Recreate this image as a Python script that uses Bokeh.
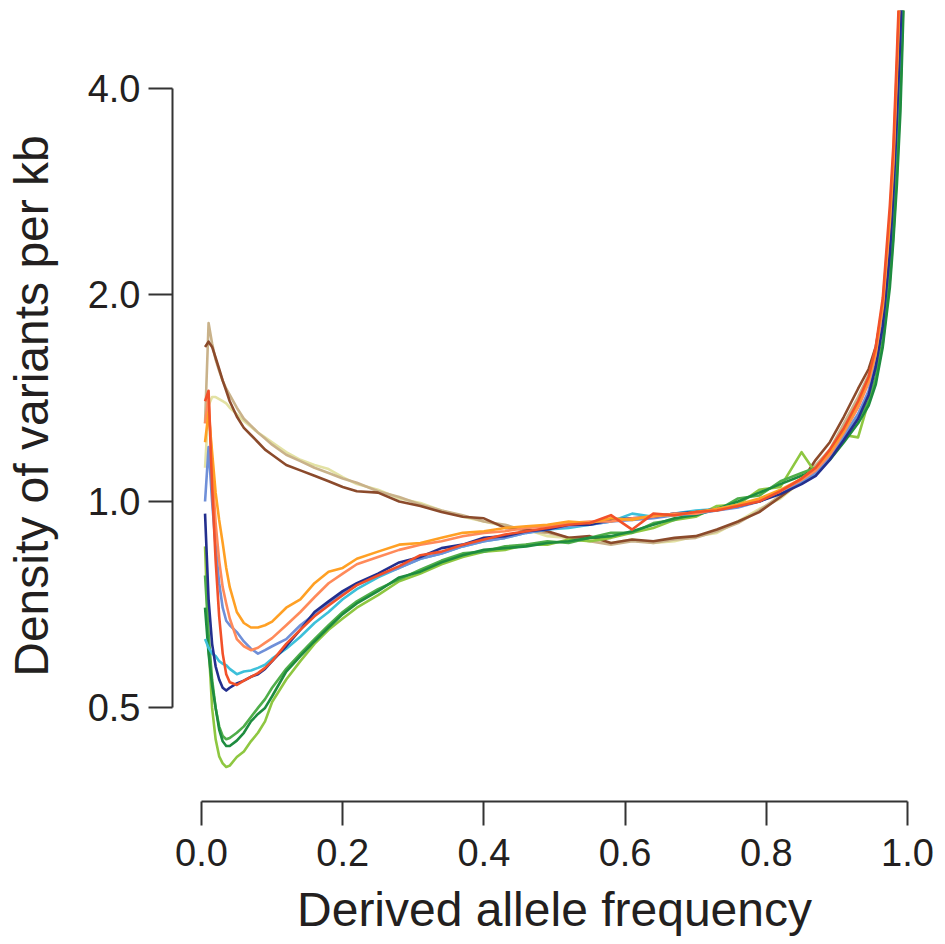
from bokeh.plotting import figure
from bokeh.models import Range1d, FixedTicker, NumeralTickFormatter
from bokeh.embed import file_html
from bokeh.resources import INLINE

# Derived allele frequency bins
freq = [0.005, 0.01, 0.015, 0.02, 0.025, 0.03, 0.035, 0.04, 0.05, 0.06, 0.07, 0.08, 0.09, 0.10,
        0.12, 0.14, 0.16, 0.18, 0.20, 0.22, 0.25, 0.28, 0.31, 0.34, 0.37, 0.40, 0.43, 0.46, 0.49,
        0.52, 0.55, 0.58, 0.61, 0.64, 0.67, 0.70, 0.73, 0.76, 0.79, 0.82, 0.85, 0.87, 0.89, 0.91,
        0.93, 0.945, 0.955, 0.965, 0.975, 0.98, 0.985, 0.99, 0.995]

# Density of variants per kb, one list per population curve
pale = [1.12, 1.38, 1.42, 1.42, 1.41, 1.40, 1.39, 1.37, 1.34, 1.31, 1.285, 1.26, 1.24, 1.22,
        1.18, 1.15, 1.13, 1.115, 1.085, 1.06, 1.04, 1.01, 0.995, 0.97, 0.95, 0.935, 0.92, 0.91, 0.89,
        0.885, 0.88, 0.87, 0.88, 0.87, 0.875, 0.89, 0.90, 0.935, 0.975, 1.01, 1.07, 1.12, 1.18, 1.28,
        1.40, 1.50, 1.62, 1.85, 2.30, 2.75, 3.40, 4.50, 6.50]
tan = [1.30, 1.82, 1.70, 1.61, 1.55, 1.50, 1.46, 1.43, 1.37, 1.32, 1.29, 1.26, 1.235, 1.21,
       1.17, 1.145, 1.12, 1.10, 1.08, 1.065, 1.035, 1.015, 0.99, 0.97, 0.955, 0.935, 0.925, 0.905, 0.90,
       0.885, 0.875, 0.865, 0.875, 0.87, 0.88, 0.885, 0.905, 0.93, 0.97, 1.02, 1.08, 1.13, 1.19, 1.30,
       1.42, 1.53, 1.66, 1.90, 2.40, 2.90, 3.60, 4.80, 6.80]
brown = [1.68, 1.71, 1.68, 1.62, 1.56, 1.50, 1.45, 1.40, 1.33, 1.28, 1.25, 1.22, 1.19, 1.17,
         1.13, 1.11, 1.09, 1.07, 1.05, 1.035, 1.03, 1.00, 0.985, 0.965, 0.95, 0.945, 0.915, 0.91, 0.905,
         0.885, 0.89, 0.87, 0.88, 0.875, 0.885, 0.89, 0.91, 0.935, 0.965, 1.015, 1.07, 1.15, 1.22, 1.33,
         1.46, 1.56, 1.68, 1.92, 2.40, 2.85, 3.55, 4.60, 6.50]
lime = [0.86, 0.62, 0.50, 0.45, 0.425, 0.415, 0.41, 0.412, 0.424, 0.432, 0.447, 0.46, 0.478, 0.51,
        0.55, 0.585, 0.62, 0.65, 0.675, 0.70, 0.73, 0.765, 0.785, 0.81, 0.83, 0.845, 0.85, 0.865, 0.865,
        0.88, 0.875, 0.885, 0.90, 0.915, 0.94, 0.95, 0.985, 0.99, 1.04, 1.05, 1.18, 1.10, 1.17, 1.25,
        1.24, 1.40, 1.50, 1.70, 2.10, 2.45, 3.00, 3.90, 5.80]
midgreen = [0.78, 0.64, 0.55, 0.50, 0.47, 0.455, 0.45, 0.452, 0.46, 0.47, 0.485, 0.50, 0.515, 0.535,
            0.57, 0.60, 0.63, 0.66, 0.69, 0.715, 0.745, 0.77, 0.795, 0.82, 0.84, 0.845, 0.86, 0.865, 0.875,
            0.87, 0.885, 0.90, 0.90, 0.93, 0.94, 0.965, 0.97, 1.01, 1.02, 1.07, 1.10, 1.12, 1.16, 1.24,
            1.32, 1.40, 1.52, 1.72, 2.15, 2.50, 3.10, 4.00, 6.00]
darkgreen = [0.70, 0.60, 0.54, 0.50, 0.465, 0.447, 0.44, 0.44, 0.448, 0.46, 0.478, 0.49, 0.50, 0.52,
             0.565, 0.595, 0.625, 0.655, 0.685, 0.71, 0.74, 0.775, 0.79, 0.815, 0.835, 0.85, 0.855, 0.86, 0.87,
             0.875, 0.885, 0.89, 0.905, 0.925, 0.945, 0.955, 0.975, 1.00, 1.03, 1.06, 1.09, 1.11, 1.15, 1.22,
             1.30, 1.38, 1.48, 1.68, 2.05, 2.40, 2.90, 3.70, 5.50]
cyan = [0.63, 0.612, 0.60, 0.595, 0.585, 0.58, 0.577, 0.57, 0.56, 0.565, 0.567, 0.572, 0.578, 0.59,
        0.61, 0.635, 0.665, 0.69, 0.72, 0.745, 0.775, 0.80, 0.825, 0.84, 0.86, 0.875, 0.885, 0.90, 0.91,
        0.915, 0.925, 0.935, 0.96, 0.95, 0.96, 0.97, 0.975, 0.99, 1.00, 1.03, 1.065, 1.10, 1.16, 1.25,
        1.34, 1.44, 1.58, 1.82, 2.35, 2.85, 3.60, 4.90, 7.00]
periwinkle = [1.00, 1.20, 1.00, 0.86, 0.76, 0.70, 0.67, 0.66, 0.645, 0.625, 0.61, 0.60, 0.607, 0.615,
              0.63, 0.66, 0.685, 0.71, 0.735, 0.755, 0.78, 0.80, 0.825, 0.84, 0.86, 0.875, 0.885, 0.90, 0.91,
              0.92, 0.925, 0.935, 0.94, 0.945, 0.955, 0.96, 0.97, 0.98, 1.00, 1.03, 1.07, 1.10, 1.16, 1.24,
              1.34, 1.45, 1.60, 1.85, 2.40, 2.90, 3.70, 5.00, 7.00]
navy = [0.96, 0.72, 0.62, 0.575, 0.55, 0.535, 0.53, 0.535, 0.543, 0.548, 0.555, 0.56, 0.57, 0.585,
        0.615, 0.65, 0.69, 0.715, 0.74, 0.76, 0.785, 0.815, 0.83, 0.855, 0.865, 0.885, 0.89, 0.905, 0.91,
        0.925, 0.925, 0.94, 0.945, 0.95, 0.96, 0.965, 0.975, 0.985, 1.00, 1.025, 1.06, 1.09, 1.15, 1.23,
        1.32, 1.43, 1.57, 1.80, 2.30, 2.80, 3.60, 4.80, 7.00]
salmon = [1.30, 1.42, 1.12, 0.93, 0.82, 0.75, 0.71, 0.675, 0.63, 0.615, 0.607, 0.612, 0.622, 0.632,
          0.66, 0.69, 0.725, 0.76, 0.785, 0.81, 0.83, 0.85, 0.865, 0.875, 0.89, 0.90, 0.905, 0.915, 0.92,
          0.93, 0.935, 0.935, 0.945, 0.95, 0.96, 0.96, 0.975, 0.985, 1.005, 1.035, 1.075, 1.11, 1.17, 1.26,
          1.37, 1.49, 1.64, 1.92, 2.55, 3.10, 4.20, 5.80, 8.00]
orange = [1.22, 1.35, 1.18, 1.03, 0.94, 0.87, 0.80, 0.75, 0.69, 0.665, 0.655, 0.655, 0.66, 0.668,
          0.70, 0.72, 0.76, 0.79, 0.80, 0.825, 0.845, 0.865, 0.87, 0.885, 0.90, 0.905, 0.915, 0.92, 0.925,
          0.935, 0.93, 0.945, 0.94, 0.955, 0.955, 0.965, 0.975, 0.99, 1.01, 1.04, 1.08, 1.12, 1.18, 1.27,
          1.39, 1.51, 1.66, 1.95, 2.60, 3.20, 4.30, 6.00, 8.00]
red = [1.40, 1.45, 1.05, 0.82, 0.68, 0.60, 0.56, 0.545, 0.54, 0.548, 0.555, 0.562, 0.572, 0.585,
       0.62, 0.65, 0.68, 0.705, 0.73, 0.755, 0.78, 0.805, 0.835, 0.845, 0.865, 0.88, 0.895, 0.905, 0.915,
       0.925, 0.93, 0.955, 0.91, 0.96, 0.955, 0.965, 0.97, 0.985, 1.00, 1.035, 1.08, 1.12, 1.19, 1.28,
       1.40, 1.52, 1.68, 1.98, 2.70, 3.30, 4.50, 6.20, 8.00]

series_names = ["pale", "tan", "brown", "lime", "midgreen", "darkgreen", "cyan", "periwinkle",
                "navy", "salmon", "orange", "red"]
series_values = [pale, tan, brown, lime, midgreen, darkgreen, cyan, periwinkle, navy, salmon, orange, red]
series_colors = ["#E3E2A4", "#C9B28A", "#8B4A2B", "#8EC741", "#4FAE4A", "#1E8C3F", "#3DC0DA",
                 "#6F8FD8", "#232F8E", "#FF8A5A", "#FFA024", "#F2512A"]

x_ticks = [0.0, 0.2, 0.4, 0.6, 0.8, 1.0]
y_ticks = [0.5, 1.0, 2.0, 4.0]

FONT = "Liberation Sans"
TEXT = "#231F20"

p = figure(width=936, height=940,
           x_range=Range1d(-0.0411, 1.0411), y_range=Range1d(0.3652, 5.198),
           y_axis_type="log", output_backend="svg", toolbar_location=None,
           min_border_left=172, min_border_right=0, min_border_top=10, min_border_bottom=139)
p.outline_line_color = None
p.grid.visible = False
p.background_fill_color = "white"
p.border_fill_color = "white"

for name, vals, col in zip(series_names, series_values, series_colors):
    p.line(freq, vals, line_color=col, line_width=2.6, line_join="round")

p.xaxis.ticker = FixedTicker(ticks=x_ticks)
p.yaxis.ticker = FixedTicker(ticks=y_ticks)
p.xaxis.formatter = NumeralTickFormatter(format="0.0")
p.yaxis.formatter = NumeralTickFormatter(format="0.0")
p.xaxis.bounds = (0, 1)
p.yaxis.bounds = (0.5, 4.0)
p.xaxis.axis_label = "Derived allele frequency"
p.yaxis.axis_label = "Density of variants per kb"

for ax in p.axis:
    ax.axis_line_color = "#333333"
    ax.axis_line_width = 2
    ax.major_tick_line_color = "#333333"
    ax.major_tick_line_width = 2
    ax.major_tick_out = 24
    ax.major_tick_in = 0
    ax.minor_tick_line_color = None
    ax.major_label_text_font = FONT
    ax.major_label_text_font_size = "38px"
    ax.major_label_text_color = TEXT
    ax.axis_label_text_font = FONT
    ax.axis_label_text_font_size = "48px"
    ax.axis_label_text_font_style = "normal"
    ax.axis_label_text_color = TEXT

p.yaxis.major_label_standoff = 8
p.yaxis.axis_label_standoff = 27
p.xaxis.major_label_standoff = 13
p.xaxis.axis_label_standoff = 14

open("out.html", "w").write(file_html(p, INLINE))
